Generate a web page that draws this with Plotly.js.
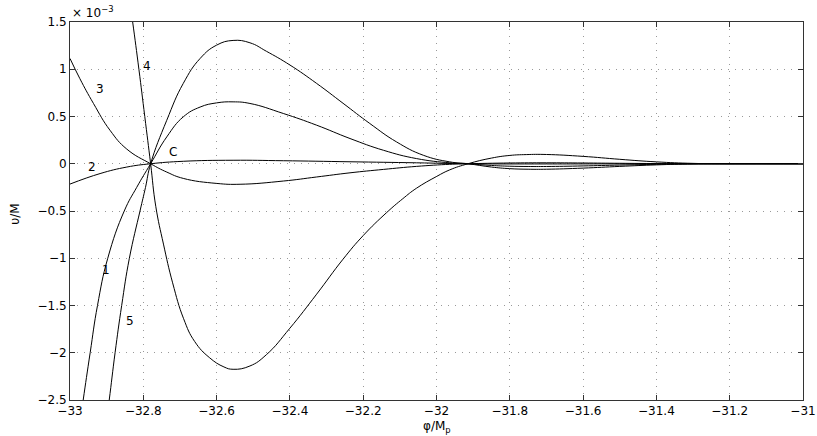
<!DOCTYPE html>
<html>
<head>
<meta charset="utf-8">
<script src="https://cdn.plot.ly/plotly-3.0.1.min.js"></script>
<style>
  html, body { margin: 0; padding: 0; background: #fff; }
  #chart { width: 817px; height: 436px; }
</style>
</head>
<body>
<div id="chart"></div>
<script>
// values of v/M in units of 1e-3
const x1 = [-32.975, -32.964, -32.945, -32.925, -32.897, -32.852, -32.818, -32.78, -32.736, -32.691, -32.645, -32.6, -32.555, -32.509, -32.418, -32.327, -32.236, -32.145, -32.055, -31.964, -31.914, -31.85, -31.8, -31.75, -31.7, -31.6, -31.5, -31.4, -31.3, -31.2, -31.1, -31.0];
const y1 = [-2.8, -2.5, -2.0, -1.5, -1.0, -0.5, -0.25, 0, 0.284, 0.496, 0.60, 0.644, 0.655, 0.638, 0.532, 0.408, 0.267, 0.143, 0.055, 0.01, 0, -0.018, -0.026, -0.029, -0.029, -0.023, -0.014, -0.006, -0.001, 0, 0, 0];

const x2 = [-33.0, -32.918, -32.845, -32.78, -32.691, -32.555, -32.418, -32.236, -32.055, -31.914, -31.7, -31.5, -31.2, -31.0];
const y2 = [-0.215, -0.104, -0.035, 0, 0.026, 0.037, 0.032, 0.021, 0.01, 0, -0.002, -0.001, 0, 0];

const x3 = [-33.0, -32.973, -32.936, -32.891, -32.845, -32.78, -32.736, -32.691, -32.6, -32.536, -32.418, -32.327, -32.236, -32.145, -32.055, -31.964, -31.914, -31.8, -31.7, -31.6, -31.5, -31.4, -31.3, -31.2, -31.0];
const y3 = [1.114, 0.90, 0.638, 0.355, 0.155, 0, -0.088, -0.155, -0.208, -0.217, -0.183, -0.14, -0.096, -0.06, -0.028, -0.006, 0, 0.008, 0.01, 0.008, 0.005, 0.002, 0, 0, 0];

const x4 = [-32.845, -32.829, -32.812, -32.796, -32.78, -32.766, -32.745, -32.72, -32.69, -32.66, -32.62, -32.58, -32.555, -32.509, -32.464, -32.4, -32.327, -32.255, -32.2, -32.137, -32.092, -32.055, -32.0, -31.964, -31.914, -31.85, -31.8, -31.755, -31.7, -31.6, -31.5, -31.4, -31.3, -31.2, -31.1, -31.0];
const y4 = [1.95, 1.5, 1.0, 0.5, 0, -0.45, -0.85, -1.26, -1.64, -1.88, -2.05, -2.15, -2.175, -2.14, -2.02, -1.74, -1.38, -1.01, -0.76, -0.52, -0.37, -0.26, -0.135, -0.065, 0, 0.06, 0.088, 0.097, 0.098, 0.078, 0.047, 0.02, 0.004, 0, 0, 0];

const x5 = [-32.905, -32.893, -32.877, -32.859, -32.838, -32.809, -32.794, -32.78, -32.736, -32.691, -32.645, -32.6, -32.555, -32.509, -32.464, -32.4, -32.327, -32.255, -32.182, -32.109, -32.036, -31.964, -31.914, -31.85, -31.8, -31.75, -31.7, -31.6, -31.5, -31.4, -31.3, -31.2, -31.1, -31.0];
const y5 = [-2.85, -2.5, -2.0, -1.5, -1.0, -0.5, -0.25, 0, 0.46, 0.85, 1.114, 1.255, 1.305, 1.28, 1.19, 1.045, 0.85, 0.64, 0.426, 0.231, 0.09, 0.02, 0, -0.035, -0.052, -0.058, -0.058, -0.046, -0.028, -0.012, -0.002, 0, 0, 0];

const curveLabels = ['1', '2', '3', '4', '5', 'C'];
const labelX = [-32.902, -32.94, -32.918, -32.789, -32.836, -32.718];
const labelY = [-1.128, -0.03, 0.786, 1.033, -1.665, 0.125];

const FONT = 'DejaVu Sans, Liberation Sans, Arial, sans-serif';

const curves = [[x1, y1], [x2, y2], [x3, y3], [x4, y4], [x5, y5]];
const data = curves.map(c => ({
  x: c[0],
  y: c[1],
  type: 'scatter',
  mode: 'lines',
  line: { color: '#000', width: 1, shape: 'spline', smoothing: 1.3 },
  hoverinfo: 'skip'
}));

const annotations = curveLabels.map((t, i) => ({
  x: labelX[i],
  y: labelY[i],
  xref: 'x',
  yref: 'y',
  text: t,
  showarrow: false,
  font: { family: FONT, size: 12, color: '#000' }
}));

// exponent, axis titles
annotations.push({
  xref: 'paper', yref: 'paper', x: 0, y: 1,
  xanchor: 'left', yanchor: 'bottom',
  text: '× 10<sup>−3</sup>', showarrow: false,
  font: { family: FONT, size: 12, color: '#000' }
});
annotations.push({
  xref: 'paper', yref: 'paper', x: 0.5, y: -0.045,
  xanchor: 'center', yanchor: 'top',
  text: 'φ/M<sub>p</sub>', showarrow: false,
  font: { family: FONT, size: 12, color: '#000' }
});
annotations.push({
  xref: 'paper', yref: 'paper', x: -0.075, y: 0.49,
  xanchor: 'center', yanchor: 'middle', textangle: -90,
  text: 'υ/M', showarrow: false,
  font: { family: FONT, size: 12, color: '#000' }
});

const axisCommon = {
  showline: true,
  linecolor: '#333',
  linewidth: 1,
  mirror: 'ticks',
  ticks: 'inside',
  ticklen: 5,
  tickcolor: '#333',
  showgrid: true,
  gridcolor: '#999',
  griddash: '1px,6px',
  gridwidth: 1,
  zeroline: false,
  tickfont: { family: FONT, size: 12, color: '#000' }
};

const layout = {
  width: 817,
  height: 436,
  margin: { l: 70, r: 14, t: 22, b: 36 },
  paper_bgcolor: '#fff',
  plot_bgcolor: '#fff',
  showlegend: false,
  xaxis: Object.assign({}, axisCommon, { range: [-33, -31], tick0: -33, dtick: 0.2 }),
  yaxis: Object.assign({}, axisCommon, { range: [-2.5, 1.5], tick0: -2.5, dtick: 0.5 }),
  annotations: annotations
};

Plotly.newPlot('chart', data, layout, { staticPlot: true });
</script>
</body>
</html>
